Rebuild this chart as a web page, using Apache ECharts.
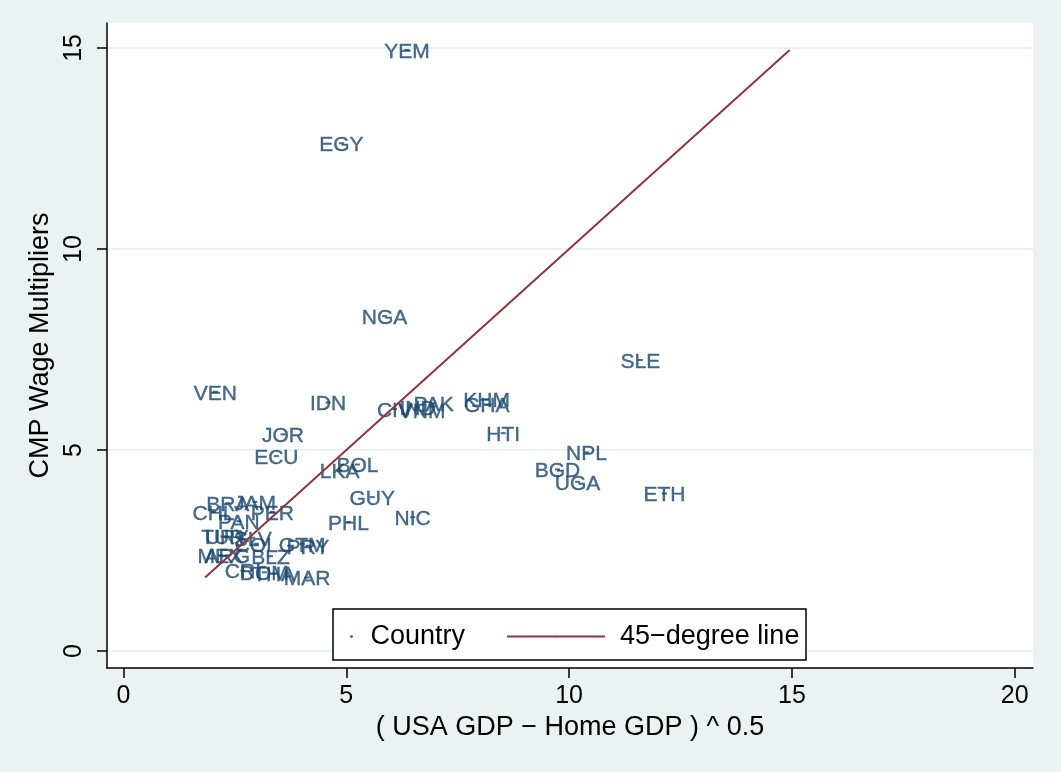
<!DOCTYPE html>
<html>
<head>
<meta charset="utf-8">
<title>CMP Wage Multipliers</title>
<script src="https://cdn.jsdelivr.net/npm/echarts@6/dist/echarts.min.js"></script>
<style>
  html, body { margin: 0; padding: 0; background: #EAF2F3; }
  #chart { width: 1061px; height: 772px; }
</style>
</head>
<body>
<div id="chart"></div>
<script>
// Country codes, x = (USA GDP - Home GDP)^0.5, y = CMP wage multiplier
const countries = ['YEM','EGY','NGA','SLE','VEN','IDN','JOR','ECU','CIV','IND','VNM','PAK','KHM','GHA','HTI',
                   'LKA','BOL','GUY','PHL','NIC','NPL','BGD','UGA','ETH','BRA','JAM','CHL','PER','PAN',
                   'TUR','URY','SLV','COL','GTM','PRY','MEX','ARG','BLZ','CRI','DOM','THA','MAR'];
const gdpGap    = [6.36, 4.89, 5.86, 11.60, 2.06, 4.59, 3.58, 3.43, 6.08, 6.60, 6.70, 6.96, 8.15, 8.15, 8.52,
                   4.85, 5.25, 5.58, 5.05, 6.49, 10.39, 9.74, 10.19, 12.14, 2.34, 2.95, 2.02, 3.34, 2.59,
                   2.23, 2.32, 2.90, 2.98, 4.01, 4.14, 2.17, 2.33, 3.30, 2.68, 3.16, 3.38, 4.12];
const wageMult  = [14.95, 12.63, 8.33, 7.24, 6.45, 6.18, 5.39, 4.85, 6.02, 6.07, 5.98, 6.16, 6.26, 6.13, 5.42,
                   4.50, 4.64, 3.83, 3.21, 3.33, 4.94, 4.52, 4.21, 3.92, 3.68, 3.71, 3.46, 3.46, 3.23,
                   2.85, 2.85, 2.82, 2.67, 2.67, 2.62, 2.38, 2.38, 2.36, 2.00, 1.96, 1.93, 1.83];
// End points of the 45-degree reference line
const lineEnds  = [1.83, 14.95];
// Tick labels
const xTicks = [0, 5, 10, 15, 20];
const yTicks = [0, 5, 10, 15];

const FONT = "'Liberation Sans', Arial, Helvetica, sans-serif";
const NAVY = '#1a476f';
const MAROON = '#90353b';

const points = countries.map((c, i) => ({ name: c, value: [gdpGap[i], wageMult[i]] }));
const diagonal = lineEnds.map(v => [v, v]);

const chart = echarts.init(document.getElementById('chart'), null, { renderer: 'canvas' });
chart.setOption({
  animation: false,
  backgroundColor: '#EAF2F3',
  textStyle: { fontFamily: FONT },
  grid: {
    left: 107, right: 28, top: 23, bottom: 104,
    show: true, backgroundColor: '#ffffff', borderWidth: 0
  },
  xAxis: {
    type: 'value',
    min: -0.37, max: 20.41,
    name: '( USA GDP \u2212 Home GDP ) ^ 0.5',
    nameLocation: 'middle',
    nameGap: 39,
    nameTextStyle: { fontSize: 27, color: '#000', fontFamily: FONT },
    axisLine: { show: true, onZero: false, lineStyle: { color: '#000', width: 1.5 } },
    axisTick: { show: true, length: 10, customValues: xTicks, lineStyle: { color: '#000', width: 1.5 } },
    axisLabel: { customValues: xTicks, fontSize: 25, color: '#000', margin: 16, fontFamily: FONT },
    splitLine: { show: false }
  },
  yAxis: {
    type: 'value',
    min: -0.42, max: 15.62,
    name: 'CMP Wage Multipliers',
    nameLocation: 'middle',
    nameGap: 50,
    nameTextStyle: { fontSize: 27, color: '#000', fontFamily: FONT },
    axisLine: { show: true, onZero: false, lineStyle: { color: '#000', width: 1.5 } },
    axisTick: { show: true, length: 10, customValues: yTicks, lineStyle: { color: '#000', width: 1.5 } },
    axisLabel: { customValues: yTicks, rotate: 90, fontSize: 25, color: '#000', margin: 20, fontFamily: FONT },
    splitLine: { show: true, lineStyle: { color: '#EAF2F3', width: 2 } }
  },
  legend: [
    {
      data: [{ name: 'Country', icon: 'circle' }],
      left: 350, top: 623, padding: 0,
      itemWidth: 28, itemHeight: 3,
      textStyle: { fontSize: 27, color: '#000', fontFamily: FONT },
      z: 5
    },
    {
      data: ['45\u2212degree line'],
      left: 506, top: 623, padding: 0,
      itemWidth: 98, itemHeight: 2,
      textStyle: { fontSize: 27, color: '#000', fontFamily: FONT, padding: [0, 0, 0, 10] },
      z: 5
    }
  ],
  graphic: [{
    type: 'rect',
    z: 4,
    shape: { x: 333, y: 609, width: 473, height: 51 },
    style: { fill: '#ffffff', stroke: '#000', lineWidth: 1.5 }
  }],
  series: [
    {
      name: 'Country',
      type: 'scatter',
      data: points,
      symbol: 'rect',
      symbolSize: [5, 2],
      itemStyle: { color: NAVY },
      label: {
        show: true,
        position: 'inside',
        offset: [0, 2],
        formatter: p => p.name,
        fontSize: 21,
        color: NAVY,
        textBorderColor: NAVY,
        textBorderWidth: 0.4,
        fontFamily: FONT
      },
      z: 2
    },
    {
      name: '45\u2212degree line',
      type: 'line',
      data: diagonal,
      symbol: 'none',
      lineStyle: { color: MAROON, width: 2 },
      itemStyle: { color: MAROON },
      z: 3
    }
  ]
});
</script>
</body>
</html>
